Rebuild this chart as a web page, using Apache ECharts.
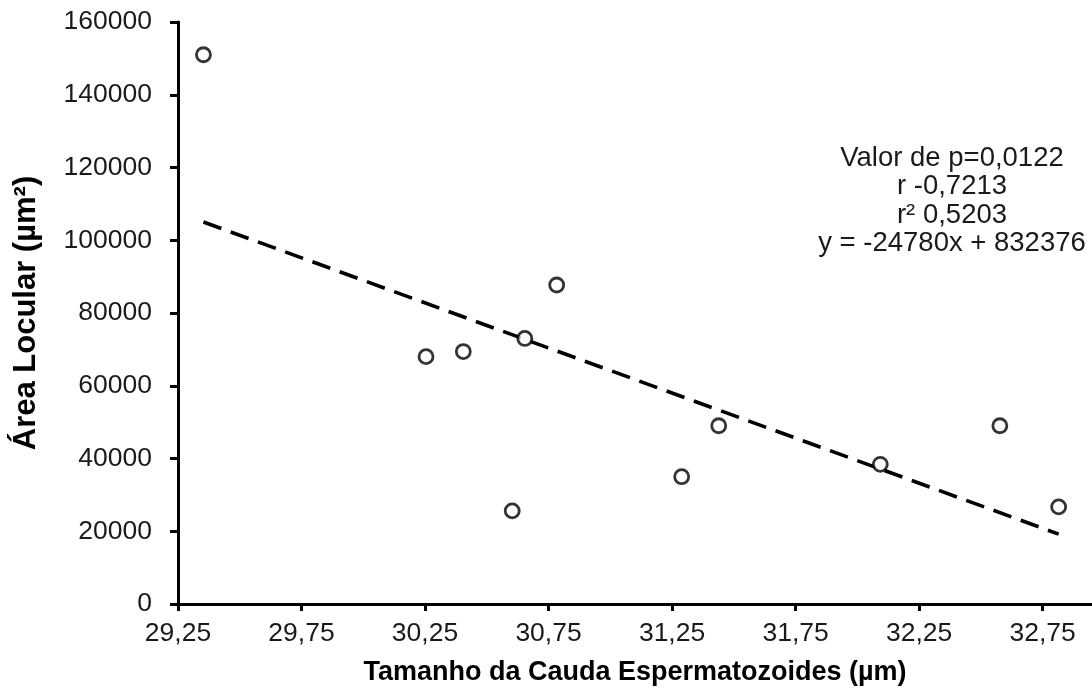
<!DOCTYPE html>
<html>
<head>
<meta charset="utf-8">
<script src="https://cdn.jsdelivr.net/npm/echarts@6/dist/echarts.min.js"></script>
<style>
html,body{margin:0;padding:0;background:#fff;}
#chart{width:1092px;height:693px;}
</style>
</head>
<body>
<div id="chart"></div>
<script>
// Data
const tailLength = [29.353, 30.254, 30.405, 30.654, 30.603, 30.783, 31.289, 31.439, 32.093, 32.577, 32.815];
const locularArea = [151000, 68000, 69400, 73000, 25600, 87700, 35000, 49000, 38400, 49000, 26700];
const xTickValues = [29.25, 29.75, 30.25, 30.75, 31.25, 31.75, 32.25, 32.75];
const yTicks = [0, 20000, 40000, 60000, 80000, 100000, 120000, 140000, 160000];
const slope = -24780;
const intercept = 832376;
const annotationLines = ['Valor de p=0,0122', 'r -0,7213', 'r\u00b2 0,5203', 'y = -24780x + 832376'];
const xTitle = 'Tamanho da Cauda Espermatozoides (\u00b5m)';
const yTitle = '\u00c1rea Locular (\u00b5m\u00b2)';

const points = tailLength.map((x, i) => [x, locularArea[i]]);
const xMin = Math.min(...tailLength), xMax = Math.max(...tailLength);
const trend = [[xMin, slope * xMin + intercept], [xMax, slope * xMax + intercept]];

const FONT = '"Liberation Sans", Arial, sans-serif';
const chart = echarts.init(document.getElementById('chart'), null, {renderer: 'canvas'});
chart.setOption({
  animation: false,
  backgroundColor: '#fff',
  grid: {left: 178, right: 0, top: 22, bottom: 89, containLabel: false},
  xAxis: {
    type: 'value', min: 29.25, max: 32.95,
    name: xTitle, nameLocation: 'middle', nameGap: 55,
    nameTextStyle: {fontFamily: FONT, fontSize: 27, fontWeight: 'bold', color: '#000'},
    axisLine: {show: true, onZero: false, lineStyle: {color: '#000', width: 3}},
    axisTick: {show: true, length: 7, inside: false, customValues: xTickValues, lineStyle: {color: '#000', width: 3}},
    axisLabel: {show: true, margin: 16, customValues: xTickValues, fontFamily: FONT, fontSize: 26.5, color: '#1a1a1a',
      formatter: v => v.toFixed(2).replace('.', ',')},
    splitLine: {show: false}
  },
  yAxis: {
    type: 'value', min: yTicks[0], max: yTicks[yTicks.length - 1], interval: yTicks[1] - yTicks[0],
    name: yTitle, nameLocation: 'middle', nameGap: 136, nameRotate: 90,
    nameTextStyle: {fontFamily: FONT, fontSize: 31, fontWeight: 'bold', color: '#000'},
    axisLine: {show: true, onZero: false, lineStyle: {color: '#000', width: 3}},
    axisTick: {show: true, length: 8, inside: false, lineStyle: {color: '#000', width: 3}},
    axisLabel: {show: true, margin: 26, fontFamily: FONT, fontSize: 26.5, color: '#1a1a1a',
      formatter: v => String(v)},
    splitLine: {show: false}
  },
  graphic: [{
    type: 'text', x: 952, y: 144, z: 100,
    style: {
      text: annotationLines.join('\n'), align: 'center', verticalAlign: 'top',
      font: '27.5px ' + FONT, lineHeight: 28.5, fill: '#1a1a1a'
    }
  }],
  series: [
    {
      type: 'line', data: trend, symbol: 'none', z: 2,
      lineStyle: {color: '#000', width: 3.6, type: [19, 10]}
    },
    {
      type: 'scatter', data: points, symbol: 'circle', symbolSize: 14, z: 5,
      itemStyle: {color: '#fff', borderColor: '#000', borderWidth: 2.8}
    }
  ]
});
</script>
</body>
</html>
